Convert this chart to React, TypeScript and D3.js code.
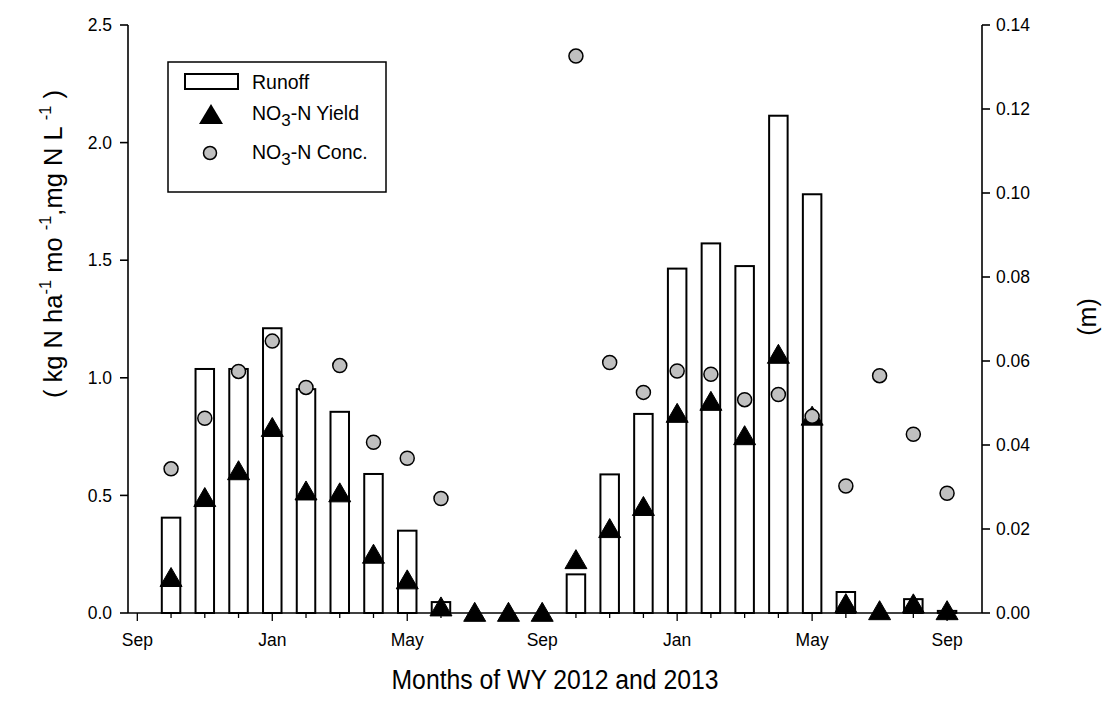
import React from "react";
import * as d3 from "d3";

// Month sequence of the two water years, Sep 2011 .. Sep 2013 (axis positions 0..24)
const monthNames = [
  "Sep", "Oct", "Nov", "Dec", "Jan", "Feb", "Mar", "Apr", "May", "Jun", "Jul", "Aug",
  "Sep", "Oct", "Nov", "Dec", "Jan", "Feb", "Mar", "Apr", "May", "Jun", "Jul", "Aug", "Sep",
];
const labeledMonths = ["Sep", "Jan", "May"];

// Monthly series, Oct 2011 .. Sep 2013 (axis positions 1..24)
const runoffM = [
  0.0227, 0.0581, 0.0581, 0.0678, 0.0533, 0.0479, 0.0331, 0.0196, 0.0026, 0, 0, 0,
  0.0092, 0.033, 0.0474, 0.082, 0.088, 0.0826, 0.1184, 0.0997, 0.005, 0, 0.0033, 0.0005,
];
const no3Yield = [
  0.153, 0.493, 0.607, 0.791, 0.521, 0.513, 0.252, 0.143, 0.028, 0.005, 0.005, 0.005,
  0.229, 0.361, 0.455, 0.851, 0.902, 0.756, 1.102, 0.839, 0.042, 0.012, 0.041, 0.012,
];
const no3Conc: (number | null)[] = [
  0.613, 0.828, 1.027, 1.156, 0.959, 1.052, 0.726, 0.658, 0.487, null, null, null,
  2.368, 1.065, 0.938, 1.029, 1.015, 0.907, 0.929, 0.836, 0.54, 1.009, 0.76, 0.509,
];

const leftTicks = [0, 0.5, 1.0, 1.5, 2.0, 2.5];
const rightTicks = [0, 0.02, 0.04, 0.06, 0.08, 0.1, 0.12, 0.14];

const FONT = "'Liberation Sans', Arial, Helvetica, sans-serif";

const W = 1108;
const H = 713;
const frame = { left: 128, right: 982, top: 25, bottom: 613 };

export default function App() {
  const x = d3.scaleLinear().domain([-0.276, 25.035]).range([frame.left, frame.right]);
  const yL = d3.scaleLinear().domain([0, 2.5]).range([frame.bottom, frame.top]);
  const yR = d3.scaleLinear().domain([0, 0.14]).range([frame.bottom, frame.top]);

  const barW = 18.5;
  const triHalf = 11;
  const triH = 19;
  const tri = (cx: number, cy: number, half = triHalf, h = triH) => {
    const p = d3.path();
    p.moveTo(cx, cy - h / 2);
    p.lineTo(cx + half, cy + h / 2);
    p.lineTo(cx - half, cy + h / 2);
    p.closePath();
    return p.toString();
  };

  const fmtL = d3.format(".1f");
  const fmtR = d3.format(".2f");

  return (
    <svg
      width={W}
      height={H}
      style={{ position: "absolute", left: 0, top: 0, background: "#fff" }}
      fontFamily={FONT}
    >
      <rect x={0} y={0} width={W} height={H} fill="#fff" />

      {/* Runoff bars on the right-hand (m) axis */}
      {runoffM.map((v, i) =>
        v > 0 ? (
          <rect
            key={"b" + i}
            x={x(i + 1) - barW / 2}
            y={yR(v)}
            width={barW}
            height={yR(0) - yR(v)}
            fill="#fff"
            stroke="#000"
            strokeWidth={2}
          />
        ) : null
      )}

      {/* Axes */}
      <g stroke="#000" strokeWidth={1.6} fill="none">
        <line x1={frame.left} y1={frame.top} x2={frame.left} y2={frame.bottom} />
        <line x1={frame.right} y1={frame.top} x2={frame.right} y2={frame.bottom} />
        <line x1={frame.left} y1={frame.bottom} x2={frame.right} y2={frame.bottom} />
        {leftTicks.map((t) => (
          <line key={"lt" + t} x1={frame.left - 8} x2={frame.left} y1={yL(t)} y2={yL(t)} />
        ))}
        {rightTicks.map((t) => (
          <line key={"rt" + t} x1={frame.right} x2={frame.right + 8} y1={yR(t)} y2={yR(t)} />
        ))}
        {monthNames.map((m, i) => (
          <line
            key={"xt" + i}
            x1={x(i)}
            x2={x(i)}
            y1={frame.bottom}
            y2={frame.bottom + (i % 4 === 0 ? 8 : 5)}
            strokeWidth={1.3}
          />
        ))}
      </g>

      {/* NO3-N yield triangles */}
      {no3Yield.map((v, i) => (
        <path key={"t" + i} d={tri(x(i + 1), yL(v))} fill="#000" stroke="#000" strokeWidth={1} />
      ))}

      {/* NO3-N concentration circles */}
      {no3Conc.map((v, i) =>
        v == null ? null : (
          <circle
            key={"c" + i}
            cx={x(i + 1)}
            cy={yL(v)}
            r={7}
            fill="#c0c0c0"
            stroke="#000"
            strokeWidth={1.5}
          />
        )
      )}

      {/* Tick labels */}
      <g fontSize={17.5} fill="#000">
        {leftTicks.map((t) => (
          <text key={"ll" + t} x={frame.left - 16} y={yL(t)} dy="0.35em" textAnchor="end">
            {fmtL(t)}
          </text>
        ))}
        {rightTicks.map((t) => (
          <text key={"rl" + t} x={frame.right + 14} y={yR(t)} dy="0.35em" textAnchor="start">
            {fmtR(t)}
          </text>
        ))}
        {monthNames.map((m, i) =>
          i % 4 === 0 && labeledMonths.includes(m) ? (
            <text key={"xl" + i} x={x(i)} y={frame.bottom + 33} textAnchor="middle">
              {m}
            </text>
          ) : null
        )}
      </g>

      {/* Axis titles */}
      <text
        x={(frame.left + frame.right) / 2}
        y={689}
        fontSize={27}
        textAnchor="middle"
        textLength={327}
        lengthAdjust="spacingAndGlyphs"
      >
        Months of WY 2012 and 2013
      </text>
      <text
        transform={`translate(62,${(88 + 400) / 2}) rotate(-90)`}
        fontSize={25.5}
        textAnchor="middle"
      >
        {"( kg N ha"}
        <tspan fontSize={16.5} dy={-11}>-1</tspan>
        <tspan dy={11}>{" mo "}</tspan>
        <tspan fontSize={16.5} dy={-11}>-1</tspan>
        <tspan dy={11}>{",mg N L "}</tspan>
        <tspan fontSize={16.5} dy={-11}>-1</tspan>
        <tspan dy={11}>{" )"}</tspan>
      </text>
      <text transform="translate(1096,317) rotate(-90)" fontSize={25} textAnchor="middle">
        (m)
      </text>

      {/* Legend */}
      <g>
        <rect x={168} y={62} width={218} height={130} fill="#fff" stroke="#000" strokeWidth={1.5} />
        <rect x={185} y={74} width={53} height={15} fill="#fff" stroke="#000" strokeWidth={2} />
        <path d={tri(211, 114, 12, 20)} fill="#000" />
        <circle cx={210} cy={153} r={6.5} fill="#c0c0c0" stroke="#000" strokeWidth={1.5} />
        <g fontSize={19.5} fill="#000">
          <text x={252} y={89}>Runoff</text>
          <text x={252} y={120}>
            NO<tspan fontSize={17} dy={6}>3</tspan>
            <tspan dy={-6}>-N Yield</tspan>
          </text>
          <text x={252} y={159}>
            NO<tspan fontSize={17} dy={6}>3</tspan>
            <tspan dy={-6}>-N Conc.</tspan>
          </text>
        </g>
      </g>
    </svg>
  );
}
